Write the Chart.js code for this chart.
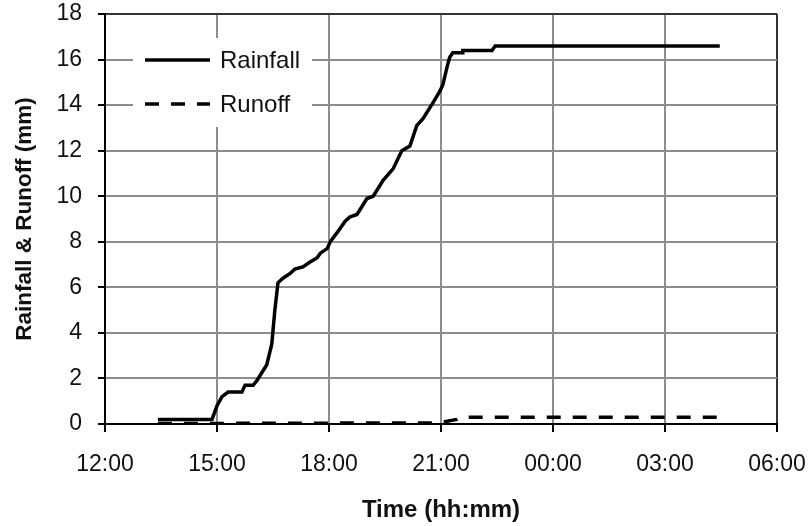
<!DOCTYPE html>
<html>
<head>
<meta charset="utf-8">
<script src="https://cdn.jsdelivr.net/npm/chart.js@4"></script>
<style>
  html, body { margin: 0; padding: 0; background: #fff; }
  #wrap { width: 810px; height: 526px; }
</style>
</head>
<body>
<div id="wrap"><canvas id="rain-chart" width="810" height="526"></canvas></div>
<script>
// Data (clock time, cumulative mm)
const rainTimes = ['13:25', '14:52', '15:00', '15:08', '15:18', '15:40', '15:45', '15:58', '16:04',
  '16:20', '16:28', '16:33', '16:38', '16:46', '16:57', '17:05', '17:18', '17:29', '17:41', '17:46',
  '17:57', '18:02', '18:13', '18:26', '18:34', '18:45', '19:01', '19:11', '19:27', '19:43', '19:57',
  '20:10', '20:21', '20:31', '20:47', '20:58', '21:03', '21:10', '21:14', '21:19', '21:34', '21:35',
  '22:22', '22:27', '04:28'];
const rainValues = [0.2, 0.2, 0.8, 1.2, 1.4, 1.4, 1.7, 1.7, 1.9,
  2.6, 3.5, 5.0, 6.2, 6.4, 6.6, 6.8, 6.9, 7.1, 7.3, 7.5,
  7.7, 8.0, 8.4, 8.9, 9.1, 9.2, 9.9, 10.0, 10.7, 11.2, 12.0,
  12.2, 13.1, 13.4, 14.1, 14.6, 14.9, 15.7, 16.1, 16.3, 16.3, 16.4,
  16.4, 16.6, 16.6];

const runoffTimes = ['13:25', '20:55', '21:00', '21:06', '21:25', '21:30', '04:24'];
const runoffValues = [0.02, 0.05, 0.1, 0.1, 0.2, 0.3, 0.3];

const xTicks = ['12:00', '15:00', '18:00', '21:00', '00:00', '03:00', '06:00'];

// hours elapsed since 12:00 (times after midnight roll over)
function toHours(t) {
  const p = t.split(':');
  let h = parseInt(p[0], 10) + parseInt(p[1], 10) / 60 - 12;
  if (h < 0) h += 24;
  return h;
}

function toPoints(times, values) {
  return times.map((t, i) => ({ x: toHours(t), y: values[i] }));
}

const DASH = [14, 12];
const FONT = '"Liberation Sans", Arial, sans-serif';

// legend drawn inside the plot on a white box
const insideLegend = {
  id: 'insideLegend',
  afterDatasetsDraw(chart) {
    const ctx = chart.ctx;
    const a = chart.chartArea;
    const x0 = a.left + 28, y0 = a.top + 24;
    ctx.save();
    ctx.fillStyle = '#fff';
    ctx.fillRect(x0, y0, 179, 89);
    ctx.font = '24px ' + FONT;
    ctx.textBaseline = 'middle';
    chart.data.datasets.forEach((ds, i) => {
      const y = y0 + 22 + i * 44;
      ctx.beginPath();
      ctx.lineWidth = 3.5;
      ctx.strokeStyle = ds.borderColor;
      ctx.setLineDash(ds.borderDash || []);
      ctx.moveTo(x0 + 12, y);
      ctx.lineTo(x0 + 77, y);
      ctx.stroke();
      ctx.setLineDash([]);
      ctx.fillStyle = '#111';
      ctx.fillText(ds.label, x0 + 87, y + 1);
    });
    ctx.restore();
  }
};

const gridColor = (ctx) => (ctx.tick && ctx.tick.value === 18 ? '#333' : '#8c8c8c');

// no automatic room for overhanging tick labels, layout padding decides
function noPad(s) {
  s.paddingLeft = 0;
  s.paddingRight = 0;
  s.paddingTop = 0;
  s.paddingBottom = 0;
}

const rain_config = {
  type: 'line',
  data: {
    datasets: [{
      label: 'Rainfall',
      data: toPoints(rainTimes, rainValues),
      borderColor: '#000',
      borderWidth: 3.5,
      pointRadius: 0,
      tension: 0
    }, {
      label: 'Runoff',
      data: toPoints(runoffTimes, runoffValues),
      borderColor: '#000',
      borderWidth: 3.5,
      borderDash: DASH,
      pointRadius: 0,
      tension: 0
    }]
  },
  options: {
    responsive: false,
    animation: false,
    layout: { padding: { top: 14, right: 33, left: 0, bottom: 0 } },
    plugins: {
      legend: { display: false },
      tooltip: { enabled: false }
    },
    scales: {
      x: {
        type: 'linear',
        min: 0,
        max: 18,
        afterFit: (s) => { s.height = 102; noPad(s); },
        afterBuildTicks: (s) => {
          s.ticks = xTicks.map((t, i) => ({ value: i * 3 }));
        },
        ticks: {
          color: '#111',
          font: { family: FONT, size: 23 },
          padding: 19,
          maxRotation: 0,
          callback: (v, i) => xTicks[i]
        },
        grid: { color: gridColor, lineWidth: 2, tickLength: 8, tickColor: '#000' },
        border: { color: '#000', width: 2 },
        title: {
          display: true,
          text: 'Time (hh:mm)',
          color: '#111',
          font: { family: FONT, size: 24, weight: 'bold' },
          padding: { top: 0, bottom: 1 }
        }
      },
      y: {
        min: 0,
        max: 18,
        afterFit: (s) => { s.width = 105; noPad(s); },
        ticks: {
          stepSize: 2,
          color: '#111',
          font: { family: FONT, size: 23 },
          padding: 16
        },
        grid: { color: gridColor, lineWidth: 2, tickLength: 7, tickColor: '#000' },
        border: { color: '#000', width: 2 },
        title: {
          display: true,
          text: 'Rainfall & Runoff (mm)',
          color: '#111',
          font: { family: FONT, size: 22.5, weight: 'bold' },
          padding: { top: 11, bottom: 0 }
        }
      }
    }
  },
  plugins: [insideLegend]
};

var rainChart = new Chart(
  document.getElementById('rain-chart'),
  rain_config
);
</script>
</body>
</html>
